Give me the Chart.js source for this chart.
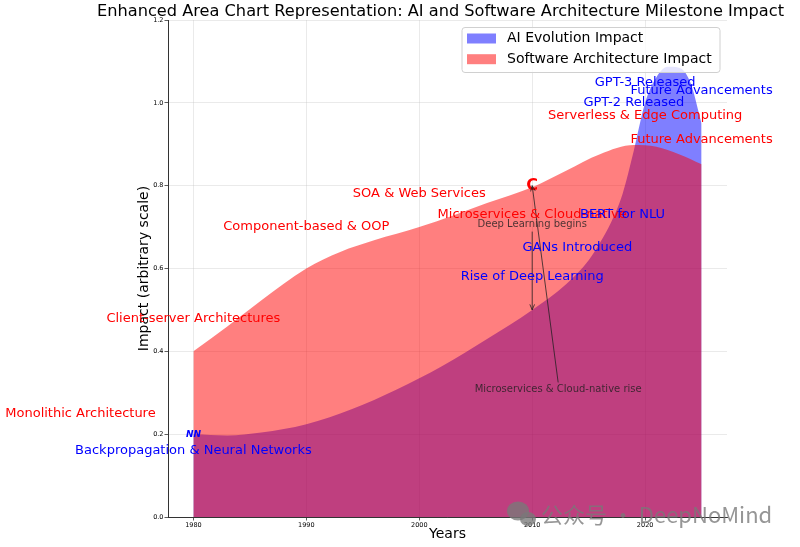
<!DOCTYPE html>
<html lang="en">
<head>
<meta charset="UTF-8">
<title>AI and Software Architecture Milestone Impact</title>
<script src="https://cdn.jsdelivr.net/npm/chart.js"></script>
<style>
  html, body { margin: 0; padding: 0; background: #fff; }
  #wrap { width: 800px; height: 547px; }
</style>
</head>
<body>
<div id="wrap"><canvas id="chart"></canvas></div>
<script>
// Curve readings (year -> impact)
const aiYears = [1980, 1983, 1986, 1990, 1994, 1998, 2002, 2006, 2010, 2013, 2015, 2016, 2017, 2018, 2019, 2020, 2021, 2022, 2023, 2024, 2025];
const aiImpact = [0.200, 0.197, 0.204, 0.224, 0.260, 0.308, 0.364, 0.430, 0.500, 0.562, 0.620, 0.662, 0.712, 0.780, 0.885, 1.000, 1.062, 1.087, 1.085, 1.050, 0.950];

const swYears = [1980, 1983, 1986, 1990, 1993, 1996, 2000, 2003, 2006, 2010, 2013, 2016, 2019, 2021, 2023, 2025];
const swImpact = [0.400, 0.460, 0.523, 0.600, 0.640, 0.668, 0.700, 0.728, 0.758, 0.796, 0.836, 0.876, 0.898, 0.894, 0.876, 0.852];

const xTicks = [1980, 1990, 2000, 2010, 2020];
const yTicks = [0, 0.2, 0.4, 0.6, 0.8, 1.0, 1.2];

const chartTitle = 'Enhanced Area Chart Representation: AI and Software Architecture Milestone Impact';

// Milestone labels (data coordinates)
const aiLabels = ['Backpropagation & Neural Networks', 'Rise of Deep Learning', 'GANs Introduced', 'BERT for NLU', 'GPT-2 Released', 'GPT-3 Released', 'Future Advancements'];
const aiLabelX = [1980, 2010, 2014, 2018, 2019, 2020, 2025];
const aiLabelY = [0.16, 0.58, 0.65, 0.73, 1.00, 1.05, 1.03];

const swLabels = ['Monolithic Architecture', 'Client-server Architectures', 'Component-based & OOP', 'SOA & Web Services', 'Microservices & Cloud-native', 'Serverless & Edge Computing', 'Future Advancements'];
const swLabelX = [1970, 1980, 1990, 2000, 2010, 2020, 2025];
const swLabelY = [0.25, 0.48, 0.70, 0.78, 0.73, 0.97, 0.91];

// Arrow notes
const noteText = ['Deep Learning begins', 'Microservices & Cloud-native rise'];
const noteX = [2010, 2012.3];
const noteY = [0.706, 0.308];
const noteTipX = [2010, 2010];
const noteTipY = [0.5, 0.8];

// Marker glyphs
const markerText = ['NN', 'C'];
const markerX = [1980, 2010];
const markerY = [0.2, 0.8];

const FONT = '"DejaVu Sans", sans-serif';

function arrow(ctx, x1, y1, x2, y2) {
    const ang = Math.atan2(y2 - y1, x2 - x1);
    ctx.beginPath();
    ctx.moveTo(x1, y1);
    ctx.lineTo(x2, y2);
    ctx.moveTo(x2 - 6 * Math.cos(ang - 0.4), y2 - 6 * Math.sin(ang - 0.4));
    ctx.lineTo(x2, y2);
    ctx.lineTo(x2 - 6 * Math.cos(ang + 0.4), y2 - 6 * Math.sin(ang + 0.4));
    ctx.stroke();
}

// draws title, annotations, the in-plot legend and the watermark
const overlayPlugin = {
    id: 'overlay',
    afterDraw(chart) {
        const ctx = chart.ctx;
        const x = chart.scales.x;
        const y = chart.scales.y;
        ctx.save();
        ctx.textAlign = 'center';
        ctx.textBaseline = 'middle';

        // title
        ctx.fillStyle = '#000';
        ctx.font = '16.2px ' + FONT;
        ctx.fillText(chartTitle, 440.5, 11.5);

        // markers
        ctx.fillStyle = 'blue';
        ctx.font = 'italic bold 9px ' + FONT;
        ctx.fillText(markerText[0], x.getPixelForValue(markerX[0]), y.getPixelForValue(markerY[0]));
        ctx.fillStyle = 'red';
        ctx.font = 'bold 16px ' + FONT;
        ctx.fillText(markerText[1], x.getPixelForValue(markerX[1]), y.getPixelForValue(markerY[1]));

        // notes with arrows
        ctx.font = '10px ' + FONT;
        ctx.fillStyle = 'rgba(30,30,30,0.8)';
        ctx.strokeStyle = 'rgba(30,30,30,0.85)';
        ctx.lineWidth = 0.9;
        noteText.forEach((t, i) => {
            const tx = x.getPixelForValue(noteX[i]);
            const ty = y.getPixelForValue(noteY[i]);
            ctx.fillText(t, tx, ty);
            const px = x.getPixelForValue(noteTipX[i]);
            const py = y.getPixelForValue(noteTipY[i]);
            const sy = py > ty ? ty + 7 : ty - 7;
            arrow(ctx, tx, sy, px, py);
        });

        // milestone labels
        ctx.font = '13px ' + FONT;
        ctx.fillStyle = 'red';
        swLabels.forEach((t, i) => ctx.fillText(t, x.getPixelForValue(swLabelX[i]), y.getPixelForValue(swLabelY[i])));
        ctx.fillStyle = 'blue';
        aiLabels.forEach((t, i) => ctx.fillText(t, x.getPixelForValue(aiLabelX[i]), y.getPixelForValue(aiLabelY[i])));

        // legend box
        const lx = 462, ly = 27.5, lw = 258, lh = 45;
        ctx.fillStyle = 'rgba(255,255,255,0.8)';
        ctx.strokeStyle = '#d0d0d0';
        ctx.lineWidth = 1;
        ctx.beginPath();
        ctx.roundRect(lx, ly, lw, lh, 3);
        ctx.fill();
        ctx.stroke();
        ctx.textAlign = 'left';
        ctx.font = '14px ' + FONT;
        chart.data.datasets.forEach((ds, i) => {
            const rowY = 38.5 + i * 20.7;
            ctx.fillStyle = ds.backgroundColor;
            ctx.fillRect(467, rowY - 5, 29, 10);
            ctx.fillStyle = '#000';
            ctx.fillText(ds.label, 507, rowY);
        });

        // watermark
        ctx.fillStyle = 'rgba(120,120,120,0.78)';
        ctx.beginPath();
        ctx.ellipse(518, 511, 11, 9.5, 0, 0, Math.PI * 2);
        ctx.fill();
        ctx.beginPath();
        ctx.ellipse(528, 519, 8, 7, 0, 0, Math.PI * 2);
        ctx.fill();
        ctx.font = '22px "Noto Sans CJK SC", ' + FONT;
        ctx.fillText('公众号 · DeepNoMind', 541, 515);
        ctx.restore();
    }
};

new Chart(document.getElementById('chart'), {
    type: 'line',
    data: {
        datasets: [{
            label: 'AI Evolution Impact',
            data: aiYears.map((yr, i) => ({ x: yr, y: aiImpact[i] })),
            fill: 'origin',
            backgroundColor: 'rgba(0,0,255,0.5)',
            borderColor: 'rgba(0,0,0,0)',
            borderWidth: 0,
            pointRadius: 0,
            cubicInterpolationMode: 'monotone',
            order: 1
        }, {
            label: 'Software Architecture Impact',
            data: swYears.map((yr, i) => ({ x: yr, y: swImpact[i] })),
            fill: 'origin',
            backgroundColor: 'rgba(255,0,0,0.5)',
            borderColor: 'rgba(0,0,0,0)',
            borderWidth: 0,
            pointRadius: 0,
            cubicInterpolationMode: 'monotone',
            order: 0
        }]
    },
    options: {
        responsive: true,
        maintainAspectRatio: false,
        animation: false,
        layout: { padding: { left: 130, right: 73, top: 20, bottom: 0 } },
        plugins: {
            legend: { display: false },
            tooltip: { enabled: false },
            title: { display: false }
        },
        scales: {
            x: {
                type: 'linear',
                min: 1977.75,
                max: 2027.25,
                z: 1,
                afterBuildTicks: s => { s.ticks = xTicks.map(v => ({ value: v })); },
                afterFit: s => { s.height = 30; },
                ticks: { color: '#000', font: { family: FONT, size: 6.5 }, padding: 1, maxRotation: 0, callback: v => String(v) },
                grid: { color: 'rgba(190,190,190,0.4)', lineWidth: 0.8, tickLength: 3.5, tickColor: '#333' },
                border: { color: '#333', width: 1 },
                title: { display: true, text: 'Years', color: '#000', font: { family: FONT, size: 14 }, padding: { top: 0, bottom: 4 } }
            },
            y: {
                min: 0,
                max: 1.2,
                z: 1,
                afterBuildTicks: s => { s.ticks = yTicks.map(v => ({ value: v })); },
                afterFit: s => { s.width = 38; },
                ticks: { color: '#000', font: { family: FONT, size: 6.5 }, padding: 1, callback: v => v.toFixed(1) },
                grid: { color: 'rgba(190,190,190,0.4)', lineWidth: 0.8, tickLength: 3.5, tickColor: '#333' },
                border: { color: '#333', width: 1 },
                title: { display: true, text: 'Impact (arbitrary scale)', color: '#000', font: { family: FONT, size: 14 }, padding: { top: 5.6, bottom: 0 } }
            }
        }
    },
    plugins: [overlayPlugin]
});
</script>
</body>
</html>
